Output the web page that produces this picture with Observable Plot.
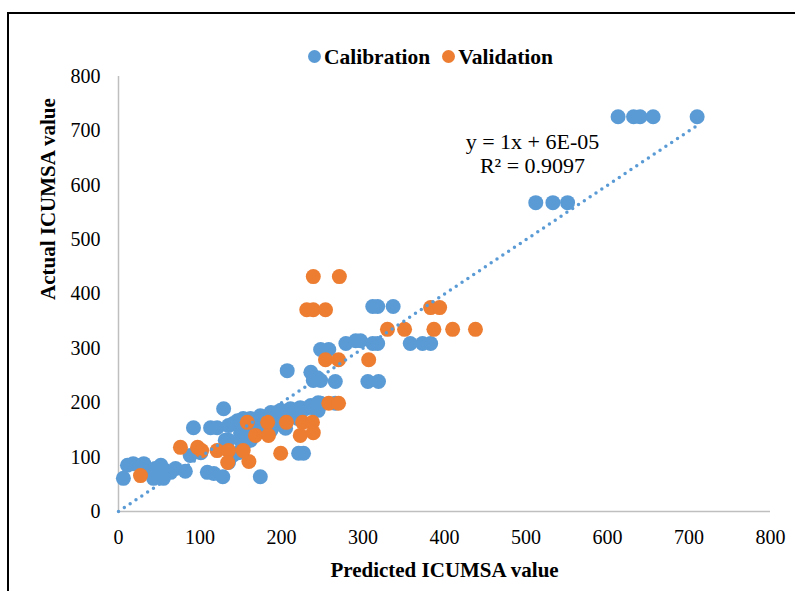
<!DOCTYPE html>
<html>
<head>
<meta charset="utf-8">
<script src="https://cdn.jsdelivr.net/npm/d3@7"></script>
<script src="https://cdn.jsdelivr.net/npm/@observablehq/plot@0.6"></script>
<style>
  html, body { margin: 0; padding: 0; background: #fff; overflow: hidden; }
  body { font-family: "Liberation Serif", "Times New Roman", serif; }
  #wrap { position: relative; width: 795px; height: 591px; overflow: hidden; }
  #frame { position: absolute; left: 7px; top: 12px; width: 900px; height: 800px; border: 2px solid #000; pointer-events: none; }
  #legend { height: 66px; box-sizing: border-box; padding-top: 47px; padding-left: 66px; display: flex; justify-content: center; align-items: center; font-weight: bold; font-size: 21.5px; line-height: 20px; color: #000; }
  .item { display: flex; align-items: center; margin: 0 6px; }
  .sw { width: 13px; height: 13px; border-radius: 50%; margin-right: 3px; display: inline-block; }
</style>
</head>
<body>
<div id="wrap">
  <div id="legend"></div>
  <div id="chart"></div>
  <div id="frame"></div>
</div>
<script>
// Calibration series (predicted, actual)
const calX = [613, 632, 640, 656, 710,
  512, 533, 551,
  312, 318, 337,
  279, 291, 297, 312, 318, 358, 373, 383,
  248, 258,
  207, 236, 244, 239, 248, 266, 306, 319,
  248, 266,
  129, 146, 153, 92, 113, 121, 141,
  135, 150, 162, 168, 177, 187, 196, 205, 213, 223, 229, 238, 245, 220, 202, 187, 158, 153, 160,
  135, 150, 162, 174, 187, 199, 211, 223, 236, 245, 180, 205, 150, 131,
  6, 11, 18, 31, 39, 45, 52, 58, 64, 70, 55, 43, 82, 109, 117, 128, 174,
  227, 221, 140, 147, 135, 88, 101];
const calY = [726, 726, 726, 726, 726,
  568, 568, 568,
  377, 377, 377,
  309, 314, 314, 309, 309, 309, 309, 309,
  298, 298,
  259, 256, 246, 241, 241, 239, 239, 239,
  199, 199,
  189, 167, 171, 154, 154, 154, 162,
  131, 131, 131, 149, 158, 167, 171, 176, 180, 186, 189, 191, 186, 171, 158, 149, 158, 121, 131,
  158, 167, 171, 176, 182, 186, 189, 191, 195, 200, 153, 153, 145, 131,
  61, 85, 88, 88, 72, 79, 85, 75, 72, 79, 61, 61, 74, 72, 70, 64, 64,
  107, 107, 103, 108, 90, 103, 108];

// Validation series (predicted, actual)
const valX = [239, 271,
  231, 239, 254,
  254, 270, 307,
  330, 351, 387, 410, 438,
  383, 394,
  258, 270,
  158, 183, 206, 226, 238,
  168, 184, 223, 239,
  199,
  76, 97, 102, 121, 135, 153,
  134, 160,
  27];
const valY = [432, 432,
  371, 371, 371,
  279, 279, 279,
  335, 335, 335, 335, 335,
  375, 375,
  199, 199,
  164, 164, 164, 164, 164,
  140, 140, 140, 145,
  107,
  118, 118, 112, 112, 112, 112,
  90, 92,
  66];

const xTicks = [0, 100, 200, 300, 400, 500, 600, 700, 800];
const yTicks = [0, 100, 200, 300, 400, 500, 600, 700, 800];
const seriesNames = ["Calibration", "Validation"];
const seriesColors = ["#5B9BD5", "#ED7D31"];
const trendSlope = 1;
const trendIntercept = 6e-5;
const equationText = ["y = 1x + 6E-05", "R² = 0.9097"];
const xTitle = "Predicted ICUMSA value";
const yTitle = "Actual ICUMSA value";

const cal = calX.map((x, i) => ({x, y: calY[i]}));
const val = valX.map((x, i) => ({x, y: valY[i]}));
const trend = [0, d3.max(calX)].map(x => ({x, y: trendSlope * x + trendIntercept}));

// Legend
const legend = document.getElementById("legend");
seriesNames.forEach((name, i) => {
  const it = document.createElement("span");
  it.className = "item";
  const sw = document.createElement("span");
  sw.className = "sw";
  sw.style.background = seriesColors[i];
  it.appendChild(sw);
  it.appendChild(document.createTextNode(name));
  legend.appendChild(it);
});

const font = '"Liberation Serif", "Times New Roman", serif';
const chart = Plot.plot({
  width: 795,
  height: 525,
  marginTop: 10,
  marginBottom: 80,
  marginLeft: 118,
  marginRight: 25,
  x: {domain: [0, 800]},
  y: {domain: [0, 800]},
  style: {fontFamily: font, fontSize: "20px", color: "#000", background: "transparent", overflow: "visible"},
  marks: [
    Plot.ruleY([0], {stroke: "#BFBFBF", strokeWidth: 1.5}),
    Plot.ruleX([0], {stroke: "#BFBFBF", strokeWidth: 1.5}),
    Plot.axisX({ticks: xTicks, tickSize: 0, tickPadding: 18, fontSize: 20, label: null}),
    Plot.axisY({ticks: yTicks, tickSize: 0, tickPadding: 18, fontSize: 20, label: null}),
    Plot.dot(cal, {x: "x", y: "y", r: 7.5, fill: seriesColors[0]}),
    Plot.dot(val, {x: "x", y: "y", r: 7.5, fill: seriesColors[1]}),
    Plot.line(trend, {x: "x", y: "y", stroke: seriesColors[0], strokeWidth: 3.5, strokeDasharray: "0,7", strokeLinecap: "round"}),
    Plot.text([equationText.join("\n")], {frameAnchor: "top-left", dx: 414, dy: 77, text: d => d, lineAnchor: "middle", textAnchor: "middle", lineHeight: 1.1, fontSize: 22, fill: "#000"}),
    Plot.text([xTitle], {frameAnchor: "bottom", dy: 59, text: d => d, lineAnchor: "middle", fontSize: 21, fontWeight: "bold", fill: "#000"}),
    Plot.text([yTitle], {frameAnchor: "left", dx: -70, dy: 6, rotate: -90, text: d => d, lineAnchor: "middle", fontSize: 21, fontWeight: "bold", fill: "#000"})
  ]
});
document.getElementById("chart").appendChild(chart);
</script>
</body>
</html>
